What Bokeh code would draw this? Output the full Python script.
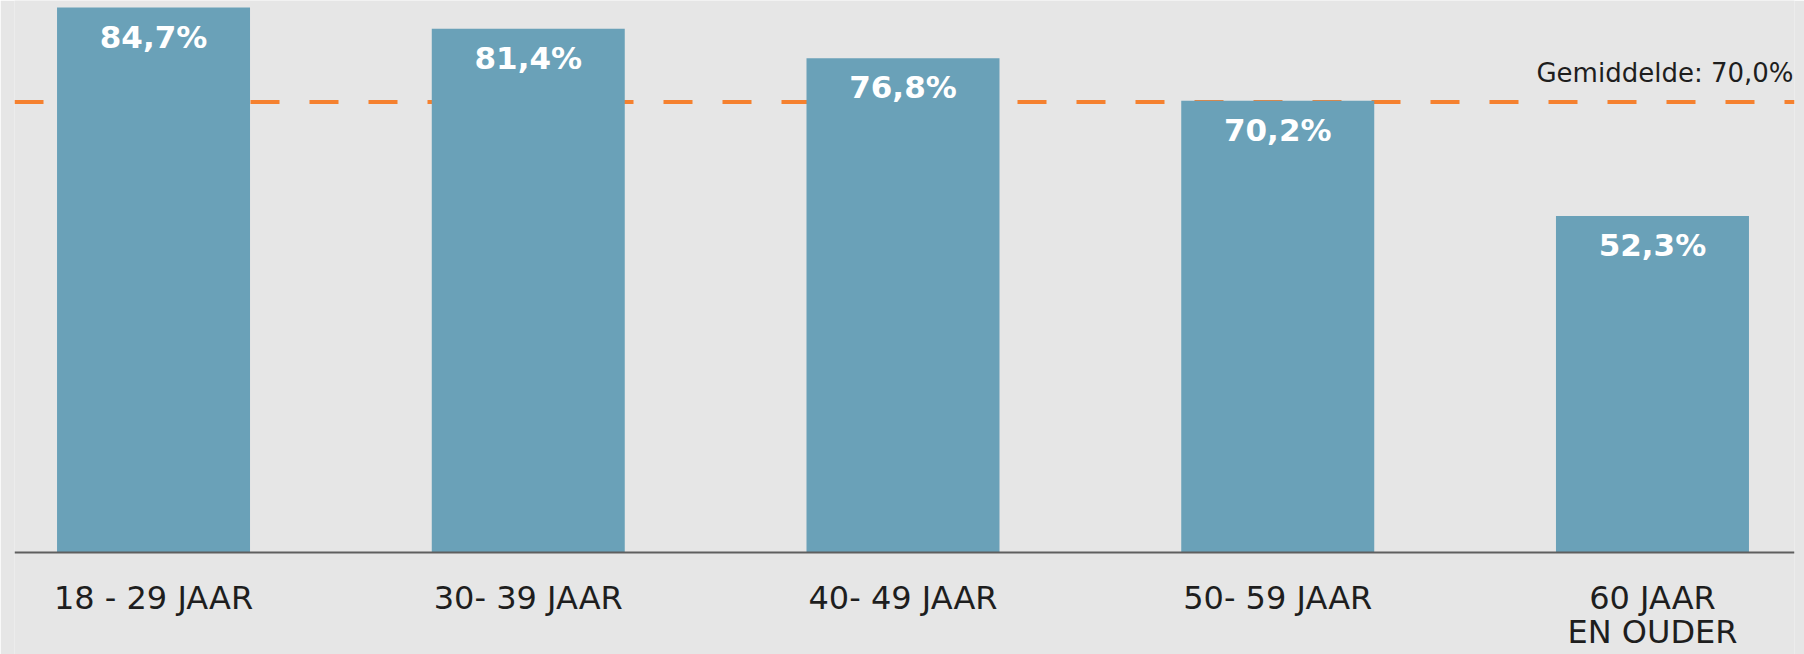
from bokeh.plotting import figure
from bokeh.models import Range1d, FixedTicker, Span, Label, ColumnDataSource
from bokeh.embed import file_html
from bokeh.resources import INLINE
from bokeh.core.properties import value

# ---- data ----
categories = ["18 - 29 JAAR", "30- 39 JAAR", "40- 49 JAAR", "50- 59 JAAR", "60 JAAR\nEN OUDER"]
shares = [84.7, 81.4, 76.8, 70.2, 52.3]
share_labels = ["84,7%", "81,4%", "76,8%", "70,2%", "52,3%"]
average = 70.0
average_label = "Gemiddelde: 70,0%"

# ---- style ----
BG = "#e6e6e6"
BAR = "#6aa1b8"
ORANGE = "#f5812f"
TEXT = "#1e1e1e"
FONT = "DejaVu Sans"

idx = list(range(len(categories)))
src = ColumnDataSource(dict(x=idx, top=shares, label=share_labels))

p = figure(
    width=1804, height=654,
    x_range=Range1d(-0.371, 4.379), y_range=Range1d(-15.85, 85.79),
    output_backend="svg", toolbar_location=None,
    y_axis_location=None, x_axis_location="below",
    min_border_left=14, min_border_right=10, min_border_top=0, min_border_bottom=0,
    background_fill_color=BG, border_fill_color=BG, outline_line_color=None,
)
p.xgrid.visible = False
p.ygrid.visible = False

avg_line = Span(location=average, dimension="width", line_color=ORANGE,
                line_width=4, line_dash="29 30", level="underlay")
p.add_layout(avg_line)

p.vbar(x="x", top="top", bottom=0, width=0.515, source=src,
       fill_color=BAR, line_color=None)

p.text(x="x", y="top", text="label", source=src, y_offset=29,
       text_align="center", text_baseline="middle",
       text_color="white", text_font=value(FONT), text_font_style="bold",
       text_font_size="31px")

p.add_layout(Label(x=4.379, y=average, x_offset=-1, y_offset=29, text=average_label,
                   text_align="right", text_baseline="alphabetic",
                   text_color=TEXT, text_font=FONT, text_font_size="26px"))

ax = p.xaxis[0]
ax.fixed_location = 0
ax.ticker = FixedTicker(ticks=idx)
ax.major_label_overrides = {i: c for i, c in zip(idx, categories)}
ax.major_tick_line_color = None
ax.minor_tick_line_color = None
ax.major_tick_out = 0
ax.major_tick_in = 0
ax.axis_line_color = "#5f5f5f"
ax.axis_line_width = 2
ax.major_label_standoff = 26
ax.major_label_text_font = FONT
ax.major_label_text_font_size = "32px"
ax.major_label_text_color = TEXT
ax.major_label_text_line_height = 0.92

open("out.html", "w").write(file_html(p, INLINE))
